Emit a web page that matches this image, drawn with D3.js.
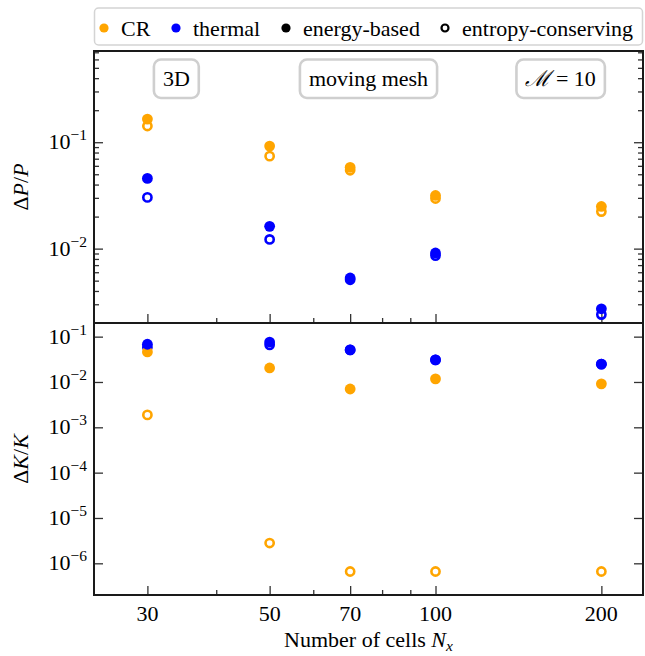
<!DOCTYPE html>
<html>
<head>
<meta charset="utf-8">
<script src="https://cdn.jsdelivr.net/npm/d3@7"></script>
<style>
  body { margin: 0; background: #fff; }
  svg { display: block; font-family: "Liberation Serif", "Times New Roman", "DejaVu Serif", serif; }
</style>
</head>
<body>
<svg id="chart" width="645" height="656"></svg>
<script>
// Resolution study: number of cells along x
const cells = [30, 50, 70, 100, 200];

// Relative pressure error ΔP/P
const dpCREnergy   = [0.165, 0.092, 0.058, 0.0316, 0.0249];
const dpCREntropy  = [0.142, 0.074, 0.0545, 0.0296, 0.0223];
const dpThEnergy   = [0.0457, 0.0162, 0.0053, 0.0091, 0.00272];
const dpThEntropy  = [0.0303, 0.0122, 0.0051, 0.0086, 0.0024];

// Relative kinetic energy error ΔK/K
const dkCREnergy   = [0.046, 0.0204, 0.0070, 0.0117, 0.0091];
const dkCREntropy  = [0.00188, 2.8e-6, 6.6e-7, 6.6e-7, 6.6e-7];
const dkThEnergy   = [0.068, 0.076, 0.051, 0.0307, 0.0247];
const dkThEntropy  = [0.058, 0.066, 0.051, 0.0307, 0.0247];

// Tick values
const xMajorTicks = [30, 50, 70, 100, 200];
const xMinorTicks = [40, 60, 80, 90];
const topExponents = [-1, -2];
const bottomExponents = [-1, -2, -3, -4, -5, -6];

// Labels
const legendItems = [
  { label: "CR", color: "#FFA500", filled: true },
  { label: "thermal", color: "#0000FF", filled: true },
  { label: "energy-based", color: "#000000", filled: true },
  { label: "entropy-conserving", color: "#000000", filled: false }
];
const panelNotes = [
  { parts: [["3D", false]], frac: 0.15 },
  { parts: [["moving mesh", false]], frac: 0.5 },
  { parts: [["\u2133", true], [" = 10", false]], frac: 0.85 }
];

const ORANGE = "#FFA500", BLUE = "#0000FF";
const svg = d3.select("#chart");

const L = 94, R = 643;
const topY0 = 51, midY = 323, botY1 = 595;

const x = d3.scaleLog().domain([24, 238]).range([L, R]);
const yTop = d3.scaleLog().domain([0.002, 0.72]).range([midY, topY0]);
const yBot = d3.scaleLog().domain([2e-7, 0.2]).range([botY1, midY]);

const MAJ = 9, MIN = 5;

// minor log ticks inside a domain
function minorTicks(scale) {
  const [a, b] = scale.domain();
  const out = [];
  for (let e = Math.floor(Math.log10(a)); e <= Math.ceil(Math.log10(b)); e++) {
    for (let m = 2; m <= 9; m++) {
      const v = m * Math.pow(10, e);
      if (v > a * 1.001 && v < b * 0.999) out.push(v);
    }
  }
  return out;
}

function drawPanel(y, y0, y1, exps, withMinor) {
  const g = svg.append("g");
  const majors = exps.map(e => Math.pow(10, e));
  const minors = withMinor ? minorTicks(y) : [];

  // y ticks, both sides, pointing inward
  g.append("g").attr("transform", `translate(${L},0)`)
    .call(d3.axisLeft(y).tickValues(majors).tickSize(-MAJ).tickFormat(""));
  g.append("g").attr("transform", `translate(${R},0)`)
    .call(d3.axisRight(y).tickValues(majors).tickSize(-MAJ).tickFormat(""));
  if (minors.length) {
    g.append("g").attr("transform", `translate(${L},0)`)
      .call(d3.axisLeft(y).tickValues(minors).tickSize(-MIN).tickFormat(""));
    g.append("g").attr("transform", `translate(${R},0)`)
      .call(d3.axisRight(y).tickValues(minors).tickSize(-MIN).tickFormat(""));
  }
  // x ticks along the bottom edge
  g.append("g").attr("transform", `translate(0,${y1})`)
    .call(d3.axisBottom(x).tickValues(xMajorTicks).tickSize(-MAJ).tickFormat(""));
  g.append("g").attr("transform", `translate(0,${y1})`)
    .call(d3.axisBottom(x).tickValues(xMinorTicks).tickSize(-MIN).tickFormat(""));

  g.selectAll(".domain").remove();
  g.selectAll(".tick line").attr("stroke", "#333").attr("stroke-width", 1.3);

  // tick labels 10^e
  exps.forEach(e => {
    const t = g.append("text")
      .attr("x", 87).attr("y", y(Math.pow(10, e)) + 7)
      .attr("text-anchor", "end").attr("font-size", 22);
    t.append("tspan").text("10");
    t.append("tspan").attr("dy", -9).attr("font-size", 15.5).text("\u2212" + Math.abs(e));
  });

  // frame
  g.append("rect").attr("x", L).attr("y", y0)
    .attr("width", R - L).attr("height", y1 - y0)
    .attr("fill", "none").attr("stroke", "#1a1a1a").attr("stroke-width", 2);
  return g;
}

drawPanel(yTop, topY0, midY, topExponents, true);
drawPanel(yBot, midY, botY1, bottomExponents, false);

// markers
function drawSeries(y, vals, color, filled) {
  svg.append("g").selectAll("circle").data(cells.map((c, i) => [c, vals[i]]))
    .join("circle")
    .attr("cx", d => x(d[0])).attr("cy", d => y(d[1]))
    .attr("r", filled ? 5.4 : 4.1)
    .attr("fill", filled ? color : "none")
    .attr("stroke", filled ? "none" : color)
    .attr("stroke-width", filled ? 0 : 2.6);
}
drawSeries(yTop, dpCREntropy, ORANGE, false);
drawSeries(yTop, dpThEntropy, BLUE, false);
drawSeries(yTop, dpCREnergy, ORANGE, true);
drawSeries(yTop, dpThEnergy, BLUE, true);

drawSeries(yBot, dkCREntropy, ORANGE, false);
drawSeries(yBot, dkThEntropy, BLUE, false);
drawSeries(yBot, dkCREnergy, ORANGE, true);
drawSeries(yBot, dkThEnergy, BLUE, true);

// annotation boxes in the upper panel
panelNotes.forEach(n => {
  const cx = L + (R - L) * n.frac;
  const g = svg.append("g");
  const t = g.append("text").attr("x", cx).attr("y", 86)
    .attr("text-anchor", "middle").attr("font-size", 22);
  n.parts.forEach(([s, it]) => {
    const sp = t.append("tspan").text(s);
    if (it) sp.attr("font-style", "italic");
  });
  const bb = t.node().getBBox();
  g.insert("rect", "text")
    .attr("x", bb.x - 9).attr("y", 59.5)
    .attr("width", bb.width + 18).attr("height", 38.5)
    .attr("rx", 7).attr("fill", "#fff")
    .attr("stroke", "#cfcfcf").attr("stroke-width", 2.6);
});

// legend
const lg = svg.append("g");
lg.append("rect").attr("x", 94.5).attr("y", 8).attr("width", 548).attr("height", 37)
  .attr("rx", 4).attr("fill", "#fff").attr("stroke", "#d4d4d4").attr("stroke-width", 1.5);
const legendX = [104, 176, 286, 445];
legendItems.forEach((it, i) => {
  const mx = legendX[i];
  lg.append("circle").attr("cx", mx).attr("cy", 28)
    .attr("r", it.filled ? 4.6 : 3.5)
    .attr("fill", it.filled ? it.color : "none")
    .attr("stroke", it.filled ? "none" : it.color)
    .attr("stroke-width", it.filled ? 0 : 2.2);
  lg.append("text").attr("x", mx + 17).attr("y", 35.5)
    .attr("font-size", 22).text(it.label);
});

// axis titles
function yTitle(cy, letter) {
  const t = svg.append("text")
    .attr("transform", `translate(28,${cy}) rotate(-90)`)
    .attr("text-anchor", "middle").attr("font-size", 22);
  t.append("tspan").text("\u0394");
  t.append("tspan").attr("font-style", "italic").text(letter);
  t.append("tspan").text("/");
  t.append("tspan").attr("font-style", "italic").text(letter);
}
yTitle((topY0 + midY) / 2, "P");
yTitle((midY + botY1) / 2, "K");

// x tick labels
xMajorTicks.forEach(v => {
  svg.append("text").attr("x", x(v)).attr("y", 621)
    .attr("text-anchor", "middle").attr("font-size", 22).text(v);
});

const xt = svg.append("text").attr("x", (L + R) / 2).attr("y", 647)
  .attr("text-anchor", "middle").attr("font-size", 22);
xt.append("tspan").text("Number of cells ");
xt.append("tspan").attr("font-style", "italic").text("N");
xt.append("tspan").attr("font-style", "italic").attr("font-size", 15.5).attr("dy", 4).text("x");
</script>
</body>
</html>
